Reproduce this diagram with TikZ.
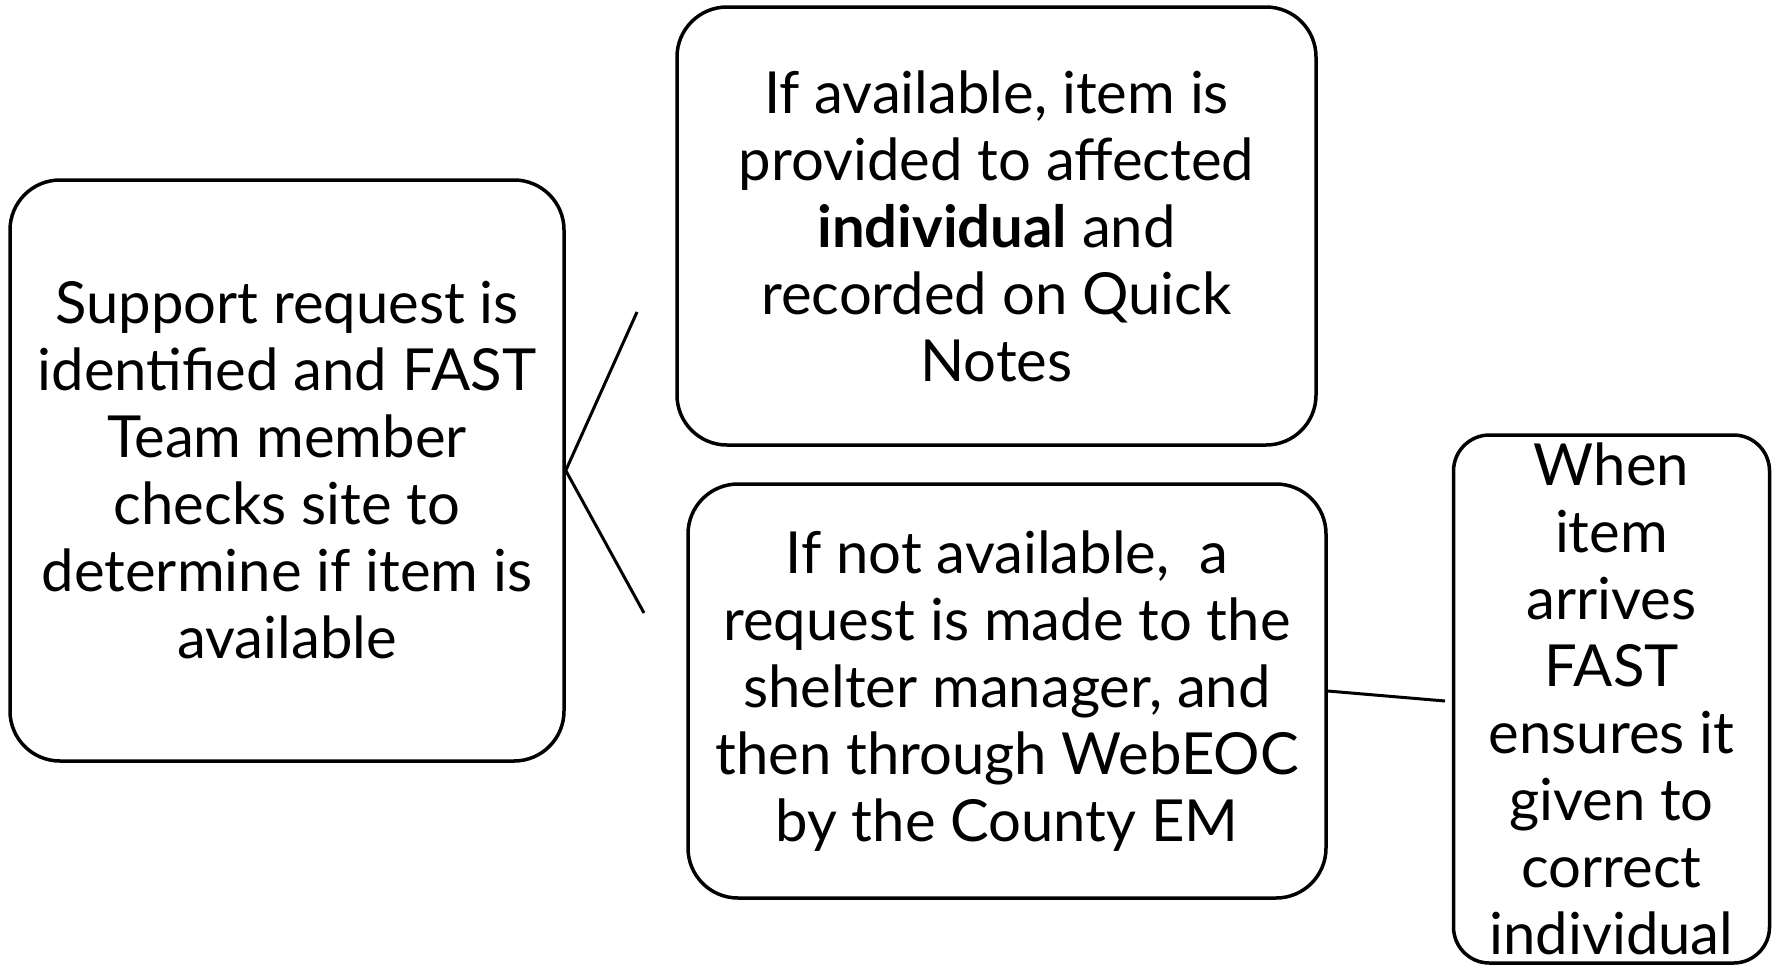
\documentclass[tikz,border=0pt]{standalone}
\usepackage{fontspec}
\setmainfont{Lato}
\begin{document}
\begin{tikzpicture}[x=1pt,y=-1pt,
  box/.style={draw=black,line width=3.5pt,rounded corners=50pt,align=center,inner sep=0pt,
    font=\fontsize{58}{67}\selectfont},
  link/.style={draw=black,line width=3pt}]
\useasboundingbox (0,0) rectangle (1777,967);
\node[box,minimum width=554pt,minimum height=581pt] (left) at (287,470.5)
  {Support request is\\identified and FAST\\Team member\\checks site to\\determine if item is\\available};
\node[box,minimum width=639pt,minimum height=438pt] (top) at (996.5,226)
  {If available, item is\\provided to affected\\\textbf{individual} and\\recorded on Quick\\Notes};
\node[box,minimum width=638pt,minimum height=414pt] (bot) at (1007,691)
  {If not available,\ \ a\\request is made to the\\shelter manager, and\\then through WebEOC\\by the County EM};
\node[box,rounded corners=36pt,minimum width=316pt,minimum height=528pt] (right) at (1611.5,699)
  {When\\item\\arrives\\FAST\\ensures it\\given to\\correct\\individual};
\coordinate (up) at (637,312);
\coordinate (dn) at (644,613);
\coordinate (rt) at (1445,701);
\draw[link] (up) -- (left.east) -- (dn);
\draw[link] (bot.east) -- (rt);
\end{tikzpicture}
\end{document}
